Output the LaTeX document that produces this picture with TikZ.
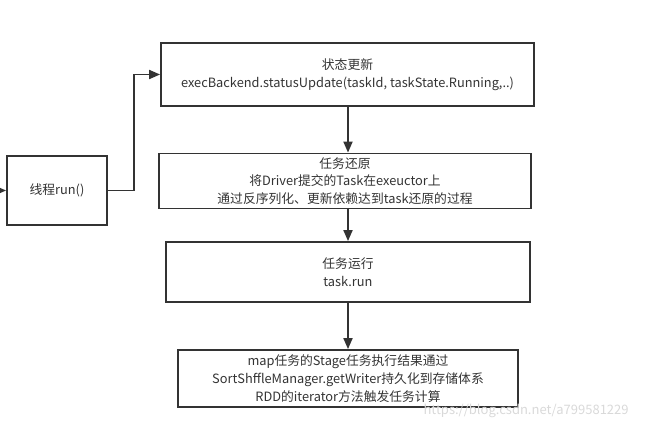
\documentclass[tikz,border=0pt]{standalone}
\usepackage{fontspec}
\setmainfont{Noto Sans CJK SC}
\usetikzlibrary{arrows.meta}
\definecolor{ink}{HTML}{333333}
\tikzset{
  box/.style={draw=ink, line width=1.8pt, text=ink, align=center, inner sep=0pt,
    font=\fontsize{12.8}{17.8}\selectfont},
  arr/.style={draw=ink, line width=1.8pt, -{Triangle[length=11pt,width=9pt]}},
  conn/.style={draw=ink, line width=1.8pt}
}
\begin{document}
\begin{tikzpicture}[x=1pt,y=-1pt]
\useasboundingbox (0,0) rectangle (666,427);
\node[box, minimum width=100pt, minimum height=69pt] (A) at (57,190.5) {线程run()};
\node[box, minimum width=373pt, minimum height=63pt] (B) at (347.5,74.5) {状态更新\\execBackend.statusUpdate(taskId, taskState.Running,..)};
\node[box, minimum width=372pt, minimum height=55pt] (C) at (345,181) {任务还原\\将Driver提交的Task在exeuctor上\\通过反序列化、更新依赖达到task还原的过程};
\node[box, minimum width=364pt, minimum height=60pt] (D) at (348,272) {任务运行\\task.run};
\node[box, minimum width=340pt, minimum height=57pt] (E) at (348,378.5) {map任务的Stage任务执行结果通过\\SortShffleManager.getWriter持久化到存储体系\\RDD的iterator方法触发任务计算};
\coordinate (in) at (-12,190.5);
\coordinate (bend) at (134,190.5);
\draw[arr] (in) -- (A.west);
\draw[arr] (A.east) -- (bend) |- (B.west);
\draw[arr] (B.south -| D.north) -- (C.north -| D.north);
\draw[arr] (C.south -| D.north) -- (D.north);
\draw[arr] (D.south) -- (E.north -| D.south);
\node[text=gray!30, font=\fontsize{13}{13}\selectfont, anchor=west] (wm) at (420,411) {https://blog.csdn.net/a799581229};
\end{tikzpicture}
\end{document}
